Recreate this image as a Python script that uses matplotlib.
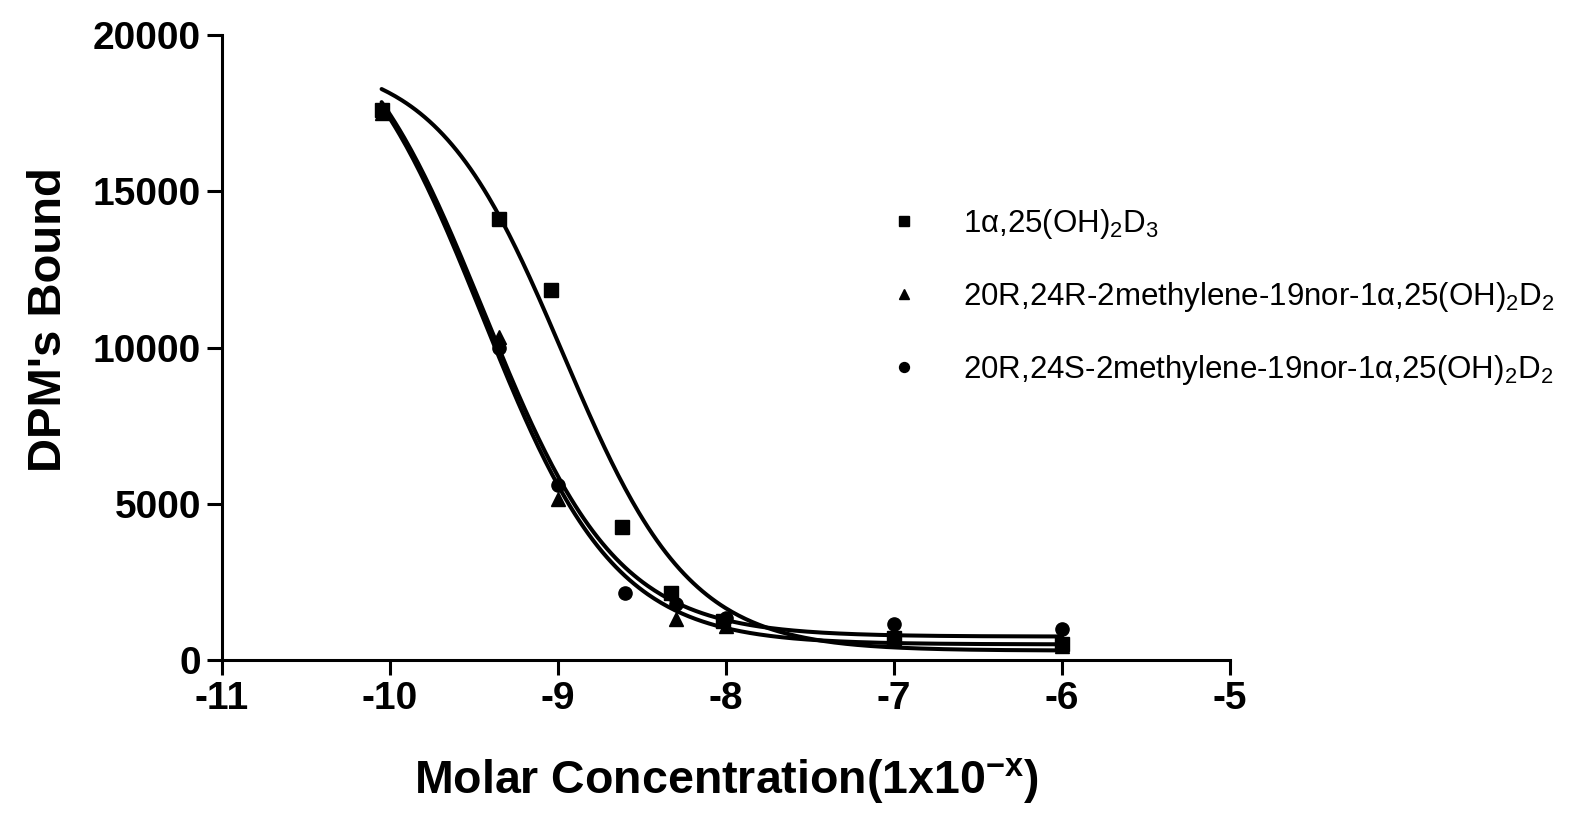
import numpy as np
import matplotlib
matplotlib.use("Agg")
import matplotlib.pyplot as plt

plt.rcParams['font.family'] = ['Liberation Sans', 'DejaVu Sans']
plt.rcParams['mathtext.fontset'] = 'custom'
plt.rcParams['mathtext.rm'] = 'Liberation Sans'
plt.rcParams['mathtext.it'] = 'Liberation Sans:italic'
plt.rcParams['mathtext.bf'] = 'Liberation Sans:bold'

# ---- data ----
labels = [r'1α,25(OH)$_2$D$_3$',
          r'20R,24R-2methylene-19nor-1α,25(OH)$_2$D$_2$',
          r'20R,24S-2methylene-19nor-1α,25(OH)$_2$D$_2$']
markers = ['s', '^', 'o']

x_sq = [-10.05, -9.35, -9.04, -8.62, -8.33, -8.02, -7.0, -6.0]
y_sq = [17600, 14100, 11850, 4250, 2150, 1250, 700, 500]

x_tri = [-10.05, -9.35, -9.0, -8.3, -8.0, -7.0, -6.0]
y_tri = [17500, 10350, 5150, 1320, 1100, 650, 450]

x_cir = [-10.05, -9.35, -9.0, -8.6, -8.3, -8.0, -7.0, -6.0]
y_cir = [17550, 10000, 5600, 2150, 1800, 1350, 1150, 1000]

# fitted sigmoid parameters (top, bottom, logEC50, hill)
fit_sq = (19300, 300, -8.97, 1.15)
fit_tri = (21500, 500, -9.45, 1.1)
fit_cir = (21500, 750, -9.44, 1.1)

xticks = [-11, -10, -9, -8, -7, -6, -5]
yticks = [0, 5000, 10000, 15000, 20000]

def sigmoid(x, p):
    top, bot, ec, h = p
    return bot + (top - bot) / (1 + 10 ** ((x - ec) * h))

fig = plt.figure(figsize=(15.75, 8.17), dpi=100)
ax = fig.add_axes([222/1575, 1-660/817, (1230-222)/1575, (660-35)/817])

xs = np.linspace(-10.05, -6.0, 300)
for p in (fit_sq, fit_tri, fit_cir):
    ax.plot(xs, sigmoid(xs, p), color='black', lw=2.9, solid_capstyle='round', clip_on=False)

handles = []
for xv, yv, m, lab in zip((x_sq, x_tri, x_cir), (y_sq, y_tri, y_cir), markers, labels):
    h, = ax.plot(xv, yv, linestyle='none', marker=m, color='black', markersize=9.5,
                 label=lab, clip_on=False)
    handles.append(h)

ax.set_xlim(-11, -5)
ax.set_ylim(0, 20000)
ax.set_xticks(xticks)
ax.set_yticks(yticks)
ax.set_xticklabels([str(t) for t in xticks])
ax.set_yticklabels([str(t) for t in yticks])
for s in ('top', 'right'):
    ax.spines[s].set_visible(False)
for s in ('left', 'bottom'):
    ax.spines[s].set_linewidth(2.2)
ax.tick_params(axis='both', length=11, width=2.2, labelsize=28, pad=4)
for t in ax.get_xticklabels() + ax.get_yticklabels():
    t.set_fontweight('bold')

ax.set_xlabel(r'Molar Concentration(1x10$^{\mathbf{-x}}$)', fontsize=33.5,
              fontweight='bold', labelpad=28)
ax.set_ylabel("DPM's Bound", fontsize=34, fontweight='bold')
ax.yaxis.set_label_coords(-0.15, 0.545)

leg = ax.legend(handles=handles, loc='upper left', bbox_to_anchor=(0.655, 0.745),
                frameon=False, fontsize=22.5, handlelength=0.6, handletextpad=1.6,
                labelspacing=1.25, markerscale=0.75, borderaxespad=0)

fig.savefig('out.png', dpi=100, facecolor='white')
